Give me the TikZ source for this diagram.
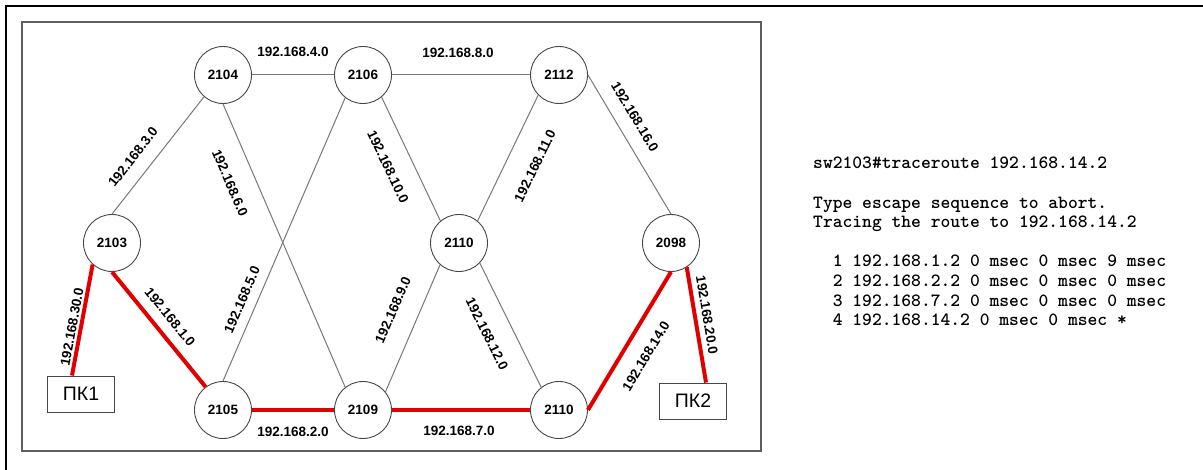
\documentclass[tikz,border=0pt]{standalone}
\usepackage{fontspec}
\setmainfont{Liberation Sans}
\definecolor{linkgray}{RGB}{120,120,120}
\definecolor{circgray}{RGB}{70,70,70}
\definecolor{pathred}{RGB}{225,0,0}
\definecolor{framegray}{RGB}{95,95,95}
\begin{document}
\begin{tikzpicture}[x=1pt,y=-1pt,
  sw/.style={circle, draw=circgray, fill=white, minimum size=57pt, inner sep=0pt, line width=0.9pt,
    font=\fontsize{13.5}{16}\selectfont\bfseries},
  pc/.style={rectangle, draw=circgray, fill=white, minimum width=67pt, minimum height=36pt, inner sep=0pt, line width=0.9pt,
    font=\fontsize{19.5}{22}\selectfont},
  lnk/.style={draw=linkgray, line width=1pt},
  redlink/.style={draw=pathred, line width=4pt},
  lbl/.style={font=\fontsize{13.5}{16}\selectfont\bfseries, inner sep=0pt},
  term/.style={font=\ttfamily\bfseries\fontsize{18.67}{22}\selectfont, anchor=base west, inner sep=0pt}]
\useasboundingbox (0,0) rectangle (1203,470);
\fill[white] (0,0) rectangle (1203,470);
% frames
\draw[line width=2.3pt] (6.2,470) -- (6.2,6.2) -- (1203,6.2);
\draw[draw=framegray, line width=1.2pt] (22,22) rectangle (761,451);
% switches
\node[sw] (n2104) at (223,75) {2104};
\node[sw] (n2106) at (363,75) {2106};
\node[sw] (n2112) at (559,75) {2112};
\node[sw] (n2103) at (112,243) {2103};
\node[sw] (n2110m) at (459,243) {2110};
\node[sw] (n2098) at (671,243) {2098};
\node[sw] (n2105) at (223,410) {2105};
\node[sw] (n2109) at (363,410) {2109};
\node[sw] (n2110b) at (559,410) {2110};
\node[pc] (pk1) at (81,394) {ПК1};
\node[pc] (pk2) at (693,401) {ПК2};
% gray links
\draw[lnk] (n2104.east) -- (n2106.west);
\draw[lnk] (n2106.east) -- (n2112.west);
\draw[lnk] (n2103.north) -- (n2104.229);
\draw[lnk] (n2104.south) -- (n2109.128);
\draw[lnk] (n2106.232) -- (n2105.north);
\draw[lnk] (n2106.310) -- (n2110m.130);
\draw[lnk] (n2112.224) -- (n2110m.50);
\draw[lnk] (n2112.east) -- (n2098.north);
\draw[lnk] (n2109.39) -- (n2110m.229);
\draw[lnk] (n2110m.316) -- (n2110b.128);
% red path
\draw[redlink] (n2103.228) -- ([xshift=-9pt]pk1.north);
\draw[redlink] (n2103.south) -- (n2105.127);
\draw[redlink] (n2105.east) -- (n2109.west);
\draw[redlink] (n2109.east) -- (n2110b.west);
\draw[redlink] (n2110b.east) -- (n2098.south);
\draw[redlink] (n2098.303) -- ([xshift=13pt]pk2.north);
% labels
\node[lbl] (l4) at (293,52) {192.168.4.0};
\node[lbl] (l8) at (458,53) {192.168.8.0};
\node[lbl, rotate=52] (l3) at (133,157) {192.168.3.0};
\node[lbl, rotate=-66.7] (l6) at (230,183) {192.168.6.0};
\node[lbl, rotate=66.7] (l5) at (242,300) {192.168.5.0};
\node[lbl, rotate=-64.5] (l10) at (388,167) {192.168.10.0};
\node[lbl, rotate=64.2] (l11) at (535,166) {192.168.11.0};
\node[lbl, rotate=-59] (l16) at (635,117) {192.168.16.0};
\node[lbl, rotate=66.6] (l9) at (393,310) {192.168.9.0};
\node[lbl, rotate=-63.6] (l12) at (487,334) {192.168.12.0};
\node[lbl, rotate=79.4] (l30) at (72,327) {192.168.30.0};
\node[lbl, rotate=-51] (l1) at (170,317) {192.168.1.0};
\node[lbl] (l2) at (293,432) {192.168.2.0};
\node[lbl] (l7) at (459,431) {192.168.7.0};
\node[lbl, rotate=58.9] (l14) at (646,356) {192.168.14.0};
\node[lbl, rotate=-80.5] (l20) at (707,315) {192.168.20.0};
% terminal output
\node[term] (t1) at (813,169) {sw2103\#traceroute 192.168.14.2};
\node[term] (t2) at (813,208.2) {Type escape sequence to abort.};
\node[term] (t3) at (813,227.8) {Tracing the route to 192.168.14.2};
\node[term] (t4) at (832.6,267) {1 192.168.1.2 0 msec 0 msec 9 msec};
\node[term] (t5) at (832.6,286.6) {2 192.168.2.2 0 msec 0 msec 0 msec};
\node[term] (t6) at (832.6,306.2) {3 192.168.7.2 0 msec 0 msec 0 msec};
\node[term] (t7) at (832.6,325.8) {4 192.168.14.2 0 msec 0 msec *};
\end{tikzpicture}
\end{document}
